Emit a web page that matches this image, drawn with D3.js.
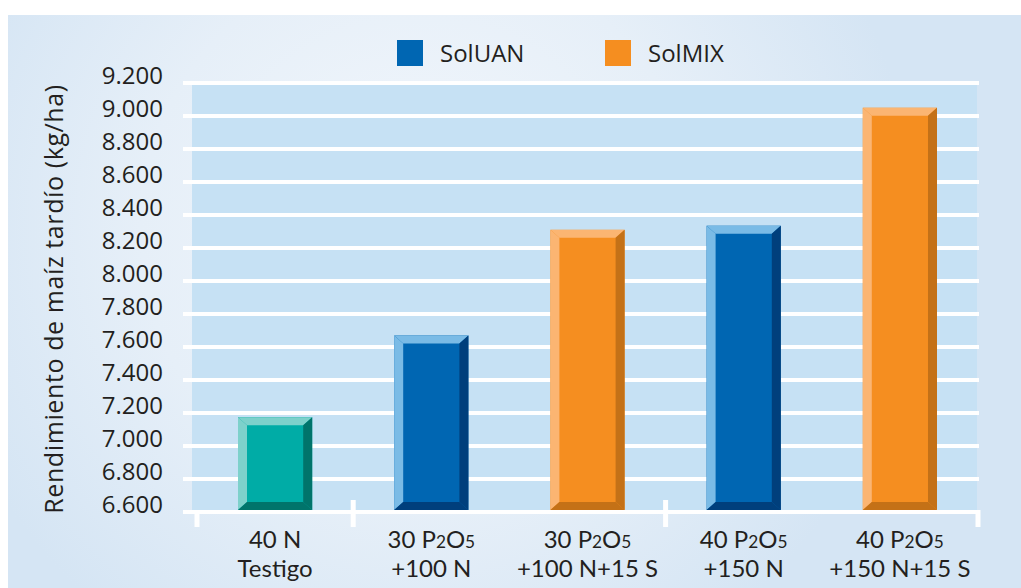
<!DOCTYPE html>
<html>
<head>
<meta charset="utf-8">
<script src="https://cdn.jsdelivr.net/npm/d3@7"></script>
<style>
  html, body { margin: 0; padding: 0; background: #ffffff; }
  svg { display: block; }
  text { font-family: "Open Sans", "Noto Sans", sans-serif; fill: #231f20; }
  text.xlab { font-family: Lato, "Open Sans", sans-serif; }
</style>
</head>
<body>
<svg id="chart" width="1021" height="588"></svg>
<script>
// ---------- data ----------
const labelLine1 = ["40 N", "30 P2O5", "30 P2O5", "40 P2O5", "40 P2O5"];
const labelLine2 = ["Testigo", "+100 N", "+100 N+15 S", "+150 N", "+150 N+15 S"];
const barSeries  = ["Testigo", "SolUAN", "SolMIX", "SolUAN", "SolMIX"];
const values     = [7175, 7670, 8310, 8335, 9050];
const yTicks     = [6600, 6800, 7000, 7200, 7400, 7600, 7800, 8000, 8200, 8400, 8600, 8800, 9000, 9200];
const legendKeys = ["SolUAN", "SolMIX"];
const yTitle     = "Rendimiento de maíz tardío (kg/ha)";

// ---------- styles ----------
const palette = {
  Testigo: { front: "#00aca6", light: "#7dd1cb", dark: "#00746b" },
  SolUAN:  { front: "#0066b2", light: "#7abbe6", dark: "#003f7c" },
  SolMIX:  { front: "#f58e20", light: "#fbb572", dark: "#c47117" }
};

const svg = d3.select("#chart");
const W = 1021, H = 588;

// background panel gradient
const defs = svg.append("defs");
const rg = defs.append("radialGradient").attr("id", "bg")
  .attr("gradientUnits", "userSpaceOnUse")
  .attr("cx", 420).attr("cy", 230).attr("r", 620);
rg.append("stop").attr("offset", 0).attr("stop-color", "#f3f7fc");
rg.append("stop").attr("offset", 0.45).attr("stop-color", "#e6eff8");
rg.append("stop").attr("offset", 0.8).attr("stop-color", "#d5e5f4");
rg.append("stop").attr("offset", 1).attr("stop-color", "#d5e5f4");

svg.append("rect").attr("x", 8).attr("y", 15).attr("width", W - 8).attr("height", H - 15)
  .attr("fill", "url(#bg)");

// ---------- scales ----------
const plotLeft = 192, plotRight = 977;
const y = d3.scaleLinear().domain([6600, 9200]).range([512, 83]);
const idx = d3.range(values.length);
const pad = 0.525;
const x = d3.scaleBand().domain(idx).range([197, 978]).paddingInner(pad).paddingOuter(pad / 2);

// plot area fill
svg.append("rect")
  .attr("x", plotLeft).attr("y", y(9200))
  .attr("width", plotRight - plotLeft).attr("height", y(6600) - y(9200))
  .attr("fill", "#c6e1f4");

// gridlines
svg.append("g").selectAll("line").data(yTicks).join("line")
  .attr("x1", 183).attr("x2", 979)
  .attr("y1", d => y(d)).attr("y2", d => y(d))
  .attr("stroke", "#ffffff").attr("stroke-width", 4);

// y tick labels
svg.append("g").selectAll("text").data(yTicks).join("text")
  .attr("x", 163).attr("y", d => y(d) + 1)
  .attr("text-anchor", "end")
  .attr("font-size", 24)
  .text(d => d3.format(",")(d).replace(/,/g, "."));

// y title
svg.append("text")
  .attr("transform", "translate(63,299) rotate(-90)")
  .attr("text-anchor", "middle")
  .attr("font-size", 25)
  .attr("letter-spacing", 0.6)
  .text(yTitle);

// group boundary ticks on x axis
const step = x.step();
const gap = step - x.bandwidth();
const boundaries = [];
idx.forEach(i => {
  if (i === 0) boundaries.push({ pos: x(i) - gap / 2, end: true });
  else if (labelLine1[i] !== labelLine1[i - 1]) boundaries.push({ pos: x(i) - gap / 2, end: false });
});
boundaries.push({ pos: x(idx[idx.length - 1]) + x.bandwidth() + gap / 2, end: true });
svg.append("g").selectAll("line").data(boundaries).join("line")
  .attr("x1", d => d.pos).attr("x2", d => d.pos)
  .attr("y1", d => d.end ? 510 : 500).attr("y2", 527)
  .attr("stroke", "#ffffff").attr("stroke-width", 5);

// bevelled bars
const bv = 9, bh = 8;
const bars = svg.append("g").selectAll("g").data(idx).join("g");
bars.each(function (i) {
  const g = d3.select(this);
  const c = palette[barSeries[i]];
  const x0 = x(i), x1 = x(i) + x.bandwidth();
  const y0 = y(values[i]), y1 = y(6600) - 2;
  const poly = pts => pts.map(p => p.join(",")).join(" ");
  g.append("rect").attr("x", x0).attr("y", y0).attr("width", x1 - x0).attr("height", y1 - y0).attr("fill", c.front);
  g.append("polygon").attr("points", poly([[x0, y0], [x1, y0], [x1 - bv, y0 + bh], [x0 + bv, y0 + bh]])).attr("fill", c.light);
  g.append("polygon").attr("points", poly([[x0, y0], [x0 + bv, y0 + bh], [x0 + bv, y1 - bh], [x0, y1]])).attr("fill", c.light);
  g.append("polygon").attr("points", poly([[x1, y0], [x1, y1], [x1 - bv, y1 - bh], [x1 - bv, y0 + bh]])).attr("fill", c.dark);
  g.append("polygon").attr("points", poly([[x0, y1], [x0 + bv, y1 - bh], [x1 - bv, y1 - bh], [x1, y1]])).attr("fill", c.dark);
});

// x labels with subscripts
function tokens(str) {
  const out = [];
  for (let k = 0; k < str.length; k++) {
    const ch = str[k];
    const sub = /\d/.test(ch) && k > 0 && /[A-Za-z]/.test(str[k - 1]);
    const last = out[out.length - 1];
    if (last && last.sub === sub) last.t += ch; else out.push({ t: ch, sub });
  }
  return out;
}
const size = 24;
const xl = svg.append("g");
idx.forEach(i => {
  const cx = x(i) + x.bandwidth() / 2;
  [labelLine1[i], labelLine2[i]].forEach((line, li) => {
    const t = xl.append("text").attr("class", "xlab")
      .attr("x", cx).attr("y", 548 + li * 29)
      .attr("text-anchor", "middle").attr("font-size", size);
    tokens(line).forEach(m => {
      t.append("tspan").attr("font-size", m.sub ? size * 0.72 : size).text(m.t);
    });
  });
});

// legend
const legendX = [397, 605];
const lg = svg.append("g");
legendKeys.forEach((k, j) => {
  lg.append("rect").attr("x", legendX[j]).attr("y", 40).attr("width", 26).attr("height", 26).attr("fill", palette[k].front);
  lg.append("text").attr("x", legendX[j] + 43).attr("y", 62).attr("font-size", 24).text(k);
});
</script>
</body>
</html>
